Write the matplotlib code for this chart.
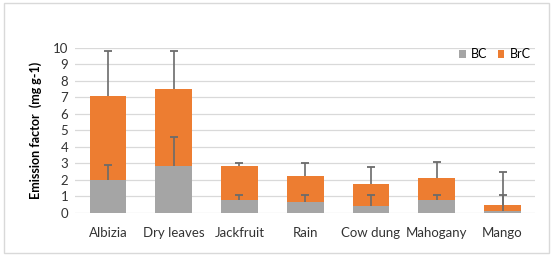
import matplotlib.pyplot as plt
import numpy as np
from matplotlib.patches import Rectangle

plt.rcParams["font.family"] = ["Lato", "DejaVu Sans"]

categories = ["Albizia", "Dry leaves", "Jackfruit", "Rain", "Cow dung", "Mahogany", "Mango"]
bc = [2.0, 2.83, 0.75, 0.65, 0.42, 0.75, 0.12]
total = [7.05, 7.48, 2.85, 2.24, 1.74, 2.1, 0.45]
bc_err_top = [2.89, 4.57, 1.09, 1.09, 1.09, 1.09, 1.09]
total_err_top = [9.82, 9.82, 2.99, 2.99, 2.79, 3.09, 2.47]

bc = np.array(bc)
total = np.array(total)
brc = total - bc

fig = plt.figure(figsize=(5.52, 2.56), dpi=100)
ax = fig.add_axes([0.136, 0.169, 0.834, 0.645])

x = np.arange(len(categories))
width = 0.56
ax.bar(x, bc, width, color="#A5A5A5", label="BC", zorder=2)
ax.bar(x, brc, width, bottom=bc, color="#ED7D31", label="BrC", zorder=2)

# upper error bars only: line from bar top up to the cap
err_col = "#6B6B6B"
for base, top in [(bc, bc_err_top), (total, total_err_top)]:
    ax.vlines(x, base, top, color=err_col, linewidth=1.2, zorder=3)
    ax.plot(x, top, linestyle="none", marker="_", markersize=6,
            markeredgewidth=1.3, color=err_col, zorder=3)

ax.set_xlim(-0.5, len(x) - 0.5)
ax.set_ylim(0, 10)
ax.set_yticks(range(0, 11))
ax.set_xticks(x)
ax.set_xticklabels(categories)
ax.tick_params(axis="both", length=0, labelsize=9.5, colors="#333333")
ax.tick_params(axis="x", pad=10)
ax.tick_params(axis="y", pad=5)
ax.grid(axis="y", color="#D9D9D9", linewidth=0.9, zorder=0)
for s in ax.spines.values():
    s.set_visible(False)
ax.set_ylabel("Emission factor  (mg g-1)", fontsize=9, fontweight="bold", labelpad=8)

ax.legend(loc="upper right", bbox_to_anchor=(1.0, 1.025), ncol=2, frameon=False, fontsize=9,
          handlelength=0.55, handleheight=0.55, columnspacing=0.8, handletextpad=0.4,
          borderaxespad=0.0)

fig.patches.append(Rectangle((0.007, 0.012), 0.987, 0.976, transform=fig.transFigure,
                             fill=False, edgecolor="#D9D9D9", linewidth=1))

fig.savefig("out.png", dpi=100)
